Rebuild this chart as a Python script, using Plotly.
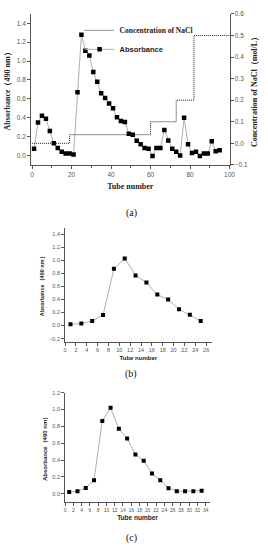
import plotly.graph_objects as go

# ---------------- data ----------------
# (a) DEAE elution
tube_a = [1, 3, 5, 7, 9, 11, 13, 15, 17, 19, 21, 23, 25, 27, 29, 31, 33, 35, 37, 39,
          41, 43, 45, 47, 49, 51, 53, 55, 57, 59, 61, 63, 65, 67, 69, 71, 73, 75, 77,
          79, 81, 83, 85, 87, 89, 91, 93, 95]
abs_a = [0.07, 0.35, 0.42, 0.39, 0.26, 0.13, 0.08, 0.04, 0.02, 0.02, 0.01, 0.67, 1.28,
         1.11, 1.06, 0.885, 0.78, 0.66, 0.61, 0.55, 0.50, 0.405, 0.365, 0.355, 0.23,
         0.22, 0.155, 0.12, 0.08, 0.07, -0.005, 0.08, 0.08, 0.27, 0.16, 0.07, 0.04,
         0.0, 0.40, 0.12, 0.025, 0.04, -0.005, 0.02, 0.02, 0.15, 0.045, 0.055]
nacl_x = [0, 19, 60, 73, 82, 100]
nacl_y = [0.0, 0.04, 0.1, 0.2, 0.5, 0.5]

# (b)
tube_b = [1, 3, 5, 7, 9, 11, 13, 15, 17, 19, 21, 23, 25]
abs_b = [0.02, 0.03, 0.07, 0.16, 0.87, 1.03, 0.77, 0.66, 0.475, 0.40, 0.25, 0.165, 0.07]

# (c)
tube_c = [1, 3, 5, 7, 9, 11, 13, 15, 17, 19, 21, 23, 25, 27, 29, 31, 33]
abs_c = [0.02, 0.03, 0.067, 0.16, 0.865, 1.02, 0.77, 0.655, 0.465, 0.39, 0.24, 0.16,
         0.065, 0.03, 0.03, 0.03, 0.035]

captions = ["(a)", "(b)", "(c)"]

W, H = 268, 550
def px(x):
    return x / W
def py(y):
    return 1 - y / H

SERIF = "Liberation Serif"
SANS = "Liberation Sans"
LINE_GRAY = "#b0b0b0"

fig = go.Figure()

# (a)
fig.add_trace(go.Scatter(
    x=nacl_x, y=nacl_y, xaxis="x", yaxis="y2", mode="lines", line_shape="hv",
    line=dict(color="#222", width=1, dash="1px,1px"),
    name='<b><span style="font-family:Liberation Serif">Concentration of NaCl</span></b>'))
fig.add_trace(go.Scatter(
    x=tube_a, y=abs_a, xaxis="x", yaxis="y", mode="lines+markers",
    line=dict(color=LINE_GRAY, width=1),
    marker=dict(symbol="square", size=4.5, color="black"),
    name='<b><span style="font-family:Liberation Sans">Absorbance</span></b>'))
# (b)
fig.add_trace(go.Scatter(
    x=tube_b, y=abs_b, xaxis="x2", yaxis="y3", mode="lines+markers",
    line=dict(color=LINE_GRAY, width=1),
    marker=dict(symbol="square", size=4, color="black"), showlegend=False))
# (c)
fig.add_trace(go.Scatter(
    x=tube_c, y=abs_c, xaxis="x3", yaxis="y4", mode="lines+markers",
    line=dict(color=LINE_GRAY, width=1),
    marker=dict(symbol="square", size=4, color="black"), showlegend=False))

axis_common = dict(showgrid=False, zeroline=False, showline=True, linecolor="#555",
                   linewidth=1, ticks="outside", ticklen=3, tickcolor="#555",
                   tickangle=0)

def tf(size):
    return dict(family=SANS, size=size, color="#555")

fig.update_layout(
    width=W, height=H, margin=dict(l=0, r=0, t=0, b=0),
    paper_bgcolor="white", plot_bgcolor="white",
    showlegend=True,
    legend=dict(x=px(80), y=py(12), xanchor="left", yanchor="top",
                bgcolor="rgba(0,0,0,0)", font=dict(size=7.5, color="#222"),
                tracegroupgap=0, itemwidth=30),
    xaxis=dict(**axis_common, tickfont=tf(6.5), domain=[px(30), px(234.5)],
               range=[-0.5, 100], tickvals=[0, 20, 40, 60, 80, 100], anchor="y",
               minor=dict(tickvals=[10, 30, 50, 70, 90], ticks="outside", ticklen=2,
                          tickcolor="#555"),
               title=dict(text="<b>Tube number</b>", standoff=6,
                          font=dict(family=SERIF, size=8, color="#222"))),
    yaxis=dict(**axis_common, tickfont=tf(6.5), domain=[py(163), py(10)],
               range=[-0.1, 1.5], tickvals=[0, 0.2, 0.4, 0.6, 0.8, 1.0, 1.2, 1.4],
               tickformat=".1f", anchor="x",
               title=dict(text="<b>Absorbance（490 nm）</b>", standoff=4,
                          font=dict(family=SERIF, size=8, color="#222"))),
    yaxis2=dict(**axis_common, tickfont=tf(6.5), domain=[py(163), py(10)],
                range=[-0.1, 0.6], overlaying="y", side="right", anchor="x",
                tickvals=[-0.1, 0, 0.1, 0.2, 0.3, 0.4, 0.5, 0.6], tickformat=".1f"),
    xaxis2=dict(**axis_common, tickfont=tf(5.5), domain=[px(65), px(216)],
                range=[0, 27], anchor="y3", tickvals=list(range(0, 27, 2)),
                title=dict(text="<b>Tube number</b>", standoff=3,
                           font=dict(family=SANS, size=6, color="#222"))),
    yaxis3=dict(**axis_common, tickfont=tf(5.5), domain=[py(342.2), py(226.7)],
                range=[-0.25, 1.5], anchor="x2",
                tickvals=[-0.2, 0, 0.2, 0.4, 0.6, 0.8, 1.0, 1.2, 1.4], tickformat=".1f",
                title=dict(text="<b>Absorbance（490 nm）</b>", standoff=4,
                           font=dict(family=SANS, size=5.5, color="#222"))),
    xaxis3=dict(**axis_common, tickfont=tf(5), domain=[px(65), px(214.3)],
                range=[0, 35], anchor="y4", tickvals=list(range(0, 35, 2)),
                title=dict(text="<b>Tube number</b>", standoff=3,
                           font=dict(family=SANS, size=6.5, color="#222"))),
    yaxis4=dict(**axis_common, tickfont=tf(5.5), domain=[py(504.5), py(393.7)],
                range=[-0.1, 1.2], anchor="x3",
                tickvals=[0, 0.2, 0.4, 0.6, 0.8, 1.0, 1.2], tickformat=".1f",
                title=dict(text="<b>Absorbance（490 nm）</b>", standoff=4,
                           font=dict(family=SANS, size=6, color="#222"))),
)

# right axis title of (a)
fig.add_annotation(text="<b>Concentration of NaCl（mol/L）</b>", x=px(261), y=py(87),
                   xref="paper", yref="paper", showarrow=False, textangle=-90,
                   font=dict(family=SERIF, size=8, color="#222"),
                   xanchor="center", yanchor="middle")

for cap, ypix in zip(captions, [212, 375, 541]):
    fig.add_annotation(text=cap, x=px(133), y=py(ypix), xref="paper", yref="paper",
                       showarrow=False, font=dict(family=SERIF, size=10, color="#111"),
                       xanchor="center", yanchor="middle")

fig.write_html("out.html",
               config={"displayModeBar": False},
               post_script="document.body.style.margin='0';"
                           "document.documentElement.style.overflow='hidden';")
